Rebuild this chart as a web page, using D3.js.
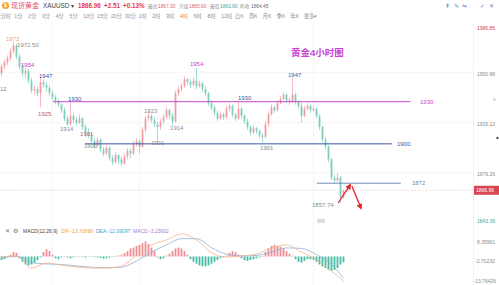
<!DOCTYPE html>
<html>
<head>
<meta charset="utf-8">
<script src="https://cdn.jsdelivr.net/npm/d3@7"></script>
<style>
  body { margin: 0; background: #fff; }
  svg { display: block; font-family: "Liberation Sans", "Noto Sans CJK SC", sans-serif; }
</style>
</head>
<body>
<div class="chart"></div>
<script>
// 4h candles: open, high, low, close
var candles = [
  [1950,1957,1948,1955], [1955,1960,1953,1958], [1958,1963,1956,1961], [1961,1968,1959,1966], [1966,1972.5,1964,1970],
  [1970,1971,1960,1962], [1962,1964,1953,1955], [1955,1957,1948,1950], [1950,1954,1947,1952], [1952,1953,1943,1945],
  [1945,1947,1936,1938], [1938,1942,1935,1939], [1939,1941,1934,1936], [1936,1947,1926,1944], [1944,1946,1940,1942],
  [1942,1944,1937,1940], [1940,1942,1934,1936], [1936,1938,1931,1933], [1933,1935,1928,1930], [1930,1932,1926,1928],
  [1928,1929,1922,1924], [1924,1926,1916,1918], [1918,1920,1913,1914], [1914,1930,1913,1920], [1920,1922,1915,1917],
  [1917,1919,1913,1915], [1915,1921,1914,1918], [1918,1919,1910,1912], [1912,1914,1905,1908], [1908,1911,1904,1906],
  [1906,1908,1900,1902], [1902,1904,1897,1899], [1899,1905,1898,1903], [1903,1904,1894,1896], [1896,1898,1891,1893],
  [1893,1899,1892,1897], [1897,1898,1888,1890], [1890,1892,1885,1887], [1887,1894,1886,1892], [1892,1893,1886,1889],
  [1889,1891,1884,1886], [1886,1893,1885,1891], [1891,1897,1889,1895], [1895,1897,1890,1893], [1893,1902,1892,1900],
  [1900,1904,1898,1902], [1902,1903,1893,1898], [1898,1912,1897,1910], [1910,1920,1908,1918], [1918,1923,1916,1920],
  [1920,1921,1915,1917], [1917,1919,1912,1914], [1914,1916,1901,1912], [1912,1918,1910,1916], [1916,1921,1914,1919],
  [1919,1926,1918,1924], [1924,1925,1918,1920], [1920,1922,1913,1916], [1916,1938,1915,1936], [1936,1941,1934,1939],
  [1939,1943,1937,1941], [1941,1948,1940,1946], [1946,1947,1942,1944], [1944,1946,1940,1942], [1942,1947,1941,1945],
  [1945,1954,1939,1941], [1941,1945,1940,1943], [1943,1944,1937,1939], [1939,1941,1934,1936], [1936,1937,1927,1929],
  [1929,1931,1924,1926], [1926,1927,1920,1922], [1922,1924,1916,1918], [1918,1923,1917,1921], [1921,1922,1917,1919],
  [1919,1927,1918,1925], [1925,1929,1923,1927], [1927,1928,1919,1921], [1921,1922,1916,1918], [1918,1930,1917,1925],
  [1925,1926,1918,1920], [1920,1921,1914,1916], [1916,1918,1910,1912], [1912,1913,1906,1908], [1908,1913,1907,1911],
  [1911,1912,1907,1909], [1909,1910,1904,1906], [1906,1908,1901,1905], [1905,1916,1904,1914], [1914,1923,1912,1921],
  [1921,1928,1920,1926], [1926,1927,1922,1924], [1924,1931,1923,1929], [1929,1934,1928,1932], [1932,1937,1931,1935],
  [1935,1936,1929,1931], [1931,1933,1928,1930], [1930,1947,1929,1935], [1935,1936,1928,1930], [1930,1931,1925,1927],
  [1927,1929,1915,1920], [1920,1927,1919,1925], [1925,1929,1924,1927], [1927,1928,1922,1924], [1924,1927,1923,1925],
  [1925,1926,1918,1920], [1920,1921,1910,1912], [1912,1913,1901,1903], [1903,1905,1896,1898], [1898,1899,1887,1889],
  [1889,1890,1874,1876], [1876,1878,1872,1874], [1874,1879,1873,1876], [1876,1877,1857.74,1862], [1862,1867.3,1861,1866.96]
];

var priceTicks = [1986.85, 1950.98, 1915.12, 1879.26, 1843.39];
var lastPrice = 1866.96;
var weekBreaks = [17, 46, 104];

// hand drawn levels: price, first candle, last candle, label position (candle index)
var levelPrices = [1930, 1900, 1872];
var levelSpans = [[17.2, 136.4, 139.5], [27.8, 130.1, 131.8], [105.1, 133.1, 136.8]];
var levelKinds = ["mag", "blue", "steel"];

// price notes written on the chart: text, candle index, price, kind
var notes = [
  ["1972", 1.5, 1974.6, "peak"], ["1972.50", 5.2, 1970.4, "gray"], ["1954", 6.5, 1956.1, "mag"],
  ["1947", 12.5, 1948.6, "blue"], ["1930", 22.2, 1931.9, "blue"], ["1925", 12.2, 1921.2, "red"],
  ["1914", 19.5, 1910.6, "gray"], ["1901", 26.2, 1907.0, "red"], ["1900", 27.5, 1898.5, "gray"],
  ["1923", 47.5, 1923.4, "gray"], ["1901", 49.8, 1901.0, "gray"], ["1914", 56.2, 1911.3, "gray"],
  ["1954", 62.8, 1956.8, "mag"], ["1930", 78.8, 1932.6, "blue"], ["1947", 95.5, 1949.0, "blue"],
  ["1901", 86.2, 1897.0, "gray"], ["1857.74", 103.5, 1856.5, "gray"], ["12", -0.5, 1939.0, "gray"]
];

// red arrows: from (index, price) to (index, price)
var arrows = [[112.2, 1857.9, 116.2, 1870.7], [116.8, 1870.0, 119.8, 1854.3]];

// MACD(12,26,9)
var hist = [
  -2, -1.5, -0.5, 1, 2.5, 2, -1, -3, -4.5, -5,
  -4.5, -3.5, -2, -0.5, 2.5, 4, 3, 1, -1, -1.5,
  -0.5, 0.3, -0.5, -1, -0.5, 0.3, 0.4, -0.3, -0.6, 0.2,
  0.3, -0.4, -0.5, -0.8, -1.2, -1, -0.6, -0.3, 0.3, 0.6,
  1, 2, 3, 4.5, 5, 6, 6.5, 7.5, 8.5, 7,
  5, 3, -0.5, -1.5, -1, 0.5, 1.5, 3, 4.5, 5,
  4.5, 3, 1, -1.5, -3, -4, -5, -5.5, -5.5, -5,
  -4, -3, -2, -1, -0.5, 0.5, 2, 3, 2.5, 1,
  -1, -2, -2.5, -2, -1.5, -1, -0.5, 0.3, 2.5, 4.5,
  6, 6.5, 6, 5.5, 4.5, 3, 1.5, 0.5, -1.5, -3,
  -3.5, -2.5, -1.5, -1.5, -2, -3, -4.5, -5.5, -6.5, -7.5,
  -8, -7.5, -6.5, -4.5, -3.2
];
var lineIdx = [0, 5, 10, 15, 20, 25, 30, 35, 40, 45, 50, 55, 60, 65, 70, 75, 80, 85, 90, 95, 100, 105, 110, 114];
var dif = [-0.3, 0.3, -6.5, -3.7, -4.8, -5.9, -6.5, -6.5, -5.3, 0.8, 6.5, 9.3, 12.7, 9.3, 2.0, -0.3, 0.3, 1.4, 4.8, 6.5, 2.5, -2, -8.2, -13.7];
var dea = [-0.5, 0, -3.5, -4.2, -4.5, -5.3, -6, -6.3, -6, -2.5, 2.5, 6.5, 10, 10, 5, 1.3, 0.3, 0.6, 2.5, 4.8, 4.5, 1, -4.5, -12.1];
var macdTicks = [8.35961, -2.70232, -13.76426];

var tabs = ["分时", "1分", "2分", "3分", "4分", "5分", "10分", "15分", "20分", "30分", "1时", "2时", "3时", "4时",
  "6时", "8时", "12时", "日K", "周K", "月K", "季K", "年K", "更多▾"];

var width = 499, height = 285;
var upColor = "#f29ba3", downColor = "#7ccdbb";
var kindColor = { peak: "#e9a46c", gray: "#8a8a8a", mag: "#c844cc", blue: "#3b55a6", red: "#c0605a", steel: "#6f8ab8" };

var svg = d3.select(".chart").append("svg")
  .attr("width", width)
  .attr("height", height);

// scales
var x = d3.scaleLinear().domain([0, 114]).range([1.5, 343.5]);
var y = d3.scaleLinear().domain([1843.39, 1986.85]).range([223.4, 21.8]);
var ym = d3.scaleLinear().domain([-13.76426, 8.35961]).range([281, 241.6]);

//==================== header ====================//
svg.append("circle").attr("cx", 5.5).attr("cy", 5.5).attr("r", 3.6).attr("fill", "#f3a93a");
svg.append("text").attr("x", 5.5).attr("y", 7.4).attr("text-anchor", "middle")
  .style("font-size", "5px").style("font-weight", "bold").attr("fill", "#fff").text("$");

function headText(t, px, size, color, weight) {
  svg.append("text").attr("x", px).attr("y", 8)
    .style("font-size", size + "px").style("font-weight", weight || "normal")
    .attr("fill", color).text(t);
}
headText("现货黄金", 11, 7, "#e8506e");
headText("XAUUSD ▾", 43, 6.3, "#444");
headText("1866.96", 78, 6.3, "#e23a4f", "bold");
headText("+2.51", 104, 6.3, "#e23a4f", "bold");
headText("+0.13%", 123, 6.3, "#e23a4f", "bold");
headText("最高", 148, 4.8, "#999");
headText("1867.30", 158, 4.8, "#e0606e");
headText("开盘", 179, 4.8, "#999");
headText("1865.60", 189, 4.8, "#e0606e");
headText("最低", 210, 4.8, "#999");
headText("1863.90", 220, 4.8, "#3aa99a");
headText("昨收", 240, 4.8, "#999");
headText("1864.45", 251, 4.8, "#666");

// toolbar glyphs at top right
svg.selectAll(".tool")
  .data(["⇞", "✎", "⇋", "✓", "✕"])
  .enter().append("text")
  .attr("x", function (d, i) { return [445, 454, 462, 480, 489][i]; })
  .attr("y", 8)
  .style("font-family", "DejaVu Sans")
  .style("font-size", "6px")
  .attr("fill", "#6a86b3")
  .text(function (d) { return d; });

// period tabs
svg.selectAll(".tab")
  .data(tabs)
  .enter().append("text")
  .attr("x", function (d, i) { return 0.5 + i * 13.8; })
  .attr("y", 18)
  .style("font-size", "5.2px")
  .attr("fill", function (d) { return d === "4时" ? "#f0852f" : "#8c8c8c"; })
  .text(function (d) { return d; });

//==================== grid ====================//
var grid = svg.append("g");
grid.selectAll(".hg")
  .data(priceTicks.slice(1, 4))
  .enter().append("line")
  .attr("x1", 0).attr("x2", 473)
  .attr("y1", function (d) { return y(d); }).attr("y2", function (d) { return y(d); })
  .attr("stroke", "#f1f1f1").attr("stroke-width", 0.7);
grid.selectAll(".vg")
  .data(weekBreaks)
  .enter().append("line")
  .attr("x1", function (d) { return x(d); }).attr("x2", function (d) { return x(d); })
  .attr("y1", 22).attr("y2", 285)
  .attr("stroke", "#f0f0f0").attr("stroke-width", 0.7);
grid.append("line").attr("x1", 473.5).attr("x2", 473.5).attr("y1", 22).attr("y2", 285)
  .attr("stroke", "#ececec").attr("stroke-width", 0.7);

//==================== candles ====================//
var cg = svg.append("g");
cg.selectAll(".wick")
  .data(candles)
  .enter().append("line")
  .attr("x1", function (d, i) { return x(i); })
  .attr("x2", function (d, i) { return x(i); })
  .attr("y1", function (d) { return y(d[1]); })
  .attr("y2", function (d) { return y(d[2]); })
  .attr("stroke", function (d) { return d[3] >= d[0] ? upColor : downColor; })
  .attr("stroke-width", 0.7);
cg.selectAll(".body")
  .data(candles)
  .enter().append("rect")
  .attr("x", function (d, i) { return x(i) - 0.9; })
  .attr("width", 1.8)
  .attr("y", function (d) { return y(Math.max(d[0], d[3])); })
  .attr("height", function (d) { return Math.max(0.8, Math.abs(y(d[0]) - y(d[3]))); })
  .attr("fill", function (d) { return d[3] >= d[0] ? upColor : downColor; });

// last price line + box
svg.append("line")
  .attr("x1", 0).attr("x2", 473)
  .attr("y1", y(lastPrice)).attr("y2", y(lastPrice))
  .attr("stroke", "#d9a3aa").attr("stroke-width", 0.6).attr("stroke-dasharray", "1,1.5");
svg.append("rect").attr("x", 474).attr("y", y(lastPrice) - 4.5).attr("width", 25).attr("height", 9)
  .attr("fill", "#d9444f");
svg.append("text").attr("x", 476).attr("y", y(lastPrice) + 1.8)
  .style("font-size", "5px").attr("fill", "#fff").text(lastPrice.toFixed(2));

// right price labels
svg.selectAll(".pl")
  .data(priceTicks)
  .enter().append("text")
  .attr("x", 477)
  .attr("y", function (d) { return Math.min(223, Math.max(29.5, y(d) + 3.5)); })
  .style("font-size", "5px")
  .attr("fill", function (d, i) { return i === 0 ? "#d9444f" : (i === 4 ? "#3aa99a" : "#8a8a8a"); })
  .text(function (d) { return d.toFixed(2); });

//==================== drawn levels ====================//
var lv = svg.append("g");
lv.selectAll("line")
  .data(levelPrices)
  .enter().append("line")
  .attr("x1", function (d, i) { return x(levelSpans[i][0]); })
  .attr("x2", function (d, i) { return x(levelSpans[i][1]); })
  .attr("y1", function (d) { return y(d); })
  .attr("y2", function (d) { return y(d); })
  .attr("stroke", function (d, i) { return kindColor[levelKinds[i]]; })
  .attr("stroke-width", 1);
lv.selectAll("text")
  .data(levelPrices)
  .enter().append("text")
  .attr("x", function (d, i) { return x(levelSpans[i][2]); })
  .attr("y", function (d) { return y(d) + 2.2; })
  .style("font-size", "6px")
  .attr("fill", function (d, i) { return kindColor[levelKinds[i]]; })
  .text(function (d) { return d; });

// notes on candles
svg.selectAll(".note")
  .data(notes)
  .enter().append("text")
  .attr("x", function (d) { return x(d[1]); })
  .attr("y", function (d) { return y(d[2]) + 2.1; })
  .style("font-size", "6px")
  .attr("fill", function (d) { return kindColor[d[3]]; })
  .text(function (d) { return d[0]; });

// title
svg.append("text")
  .attr("x", 291).attr("y", 55.5)
  .style("font-size", "9.5px").style("font-weight", "bold")
  .attr("fill", "#c944d6")
  .text("黄金4小时图");

// arrows
svg.append("defs").append("marker")
  .attr("id", "head").attr("viewBox", "0 0 10 10").attr("refX", 7).attr("refY", 5)
  .attr("markerWidth", 4.5).attr("markerHeight", 4.5).attr("orient", "auto")
  .append("path").attr("d", "M0,0L10,5L0,10Z").attr("fill", "#e2232a");
svg.selectAll(".arrow")
  .data(arrows)
  .enter().append("line")
  .attr("x1", function (d) { return x(d[0]); })
  .attr("y1", function (d) { return y(d[1]); })
  .attr("x2", function (d) { return x(d[2]); })
  .attr("y2", function (d) { return y(d[3]); })
  .attr("stroke", "#e2232a").attr("stroke-width", 1.3)
  .attr("marker-end", "url(#head)");

// small scroll handle
svg.append("rect").attr("x", 317).attr("y", 219).attr("width", 8).attr("height", 4).attr("rx", 1)
  .attr("fill", "#dcdcdc");
svg.append("text").attr("x", 493).attr("y", 102).style("font-size", "8px").attr("fill", "#999").text("›");
svg.append("circle").attr("cx", 497.5).attr("cy", 138).attr("r", 1.1).attr("fill", "#222");

//==================== MACD ====================//
var mg = svg.append("g");
mg.selectAll("rect")
  .data(hist)
  .enter().append("rect")
  .attr("x", function (d, i) { return x(i) - 0.9; })
  .attr("width", 1.8)
  .attr("y", function (d) { return d >= 0 ? ym(d) : ym(0); })
  .attr("height", function (d) { return Math.max(0.5, Math.abs(ym(d) - ym(0))); })
  .attr("fill", function (d) { return d >= 0 ? "#ef8d96" : "#45bca3"; });

var macdLine = d3.line()
  .x(function (d) { return x(d[0]); })
  .y(function (d) { return ym(d[1]); })
  .curve(d3.curveMonotoneX);
mg.append("path")
  .attr("d", macdLine(lineIdx.map(function (v, i) { return [v, dea[i]]; })))
  .attr("fill", "none").attr("stroke", "#8fb0d6").attr("stroke-width", 0.8);
mg.append("path")
  .attr("d", macdLine(lineIdx.map(function (v, i) { return [v, dif[i]]; })))
  .attr("fill", "none").attr("stroke", "#f2b58a").attr("stroke-width", 0.8);

svg.selectAll(".ml")
  .data(macdTicks)
  .enter().append("text")
  .attr("x", function (d, i) { return [477, 475, 473.5][i]; })
  .attr("y", function (d) { return Math.min(283, ym(d) + 2); })
  .style("font-size", "5px")
  .attr("fill", "#8a8a8a")
  .text(function (d) { return d; });

// MACD header
svg.append("text").attr("x", 5).attr("y", 233).style("font-size", "6px").attr("fill", "#777").text("✕");
svg.append("text").attr("x", 13).attr("y", 233).style("font-family", "DejaVu Sans").style("font-size", "6px").attr("fill", "#777").text("⚙");
svg.append("text").attr("x", 23).attr("y", 233).style("font-size", "5px").attr("fill", "#444").text("MACD(12,26,9)");
svg.append("text").attr("x", 61).attr("y", 233).style("font-size", "5px").attr("fill", "#f0a33a").text("DIF:-13.70898");
svg.append("text").attr("x", 96).attr("y", 233).style("font-size", "5px").attr("fill", "#3aa6c4").text("DEA:-12.09097");
svg.append("text").attr("x", 133).attr("y", 233).style("font-size", "5px").attr("fill", "#a67ed6").text("MACD:-3.23602");
</script>
</body>
</html>
